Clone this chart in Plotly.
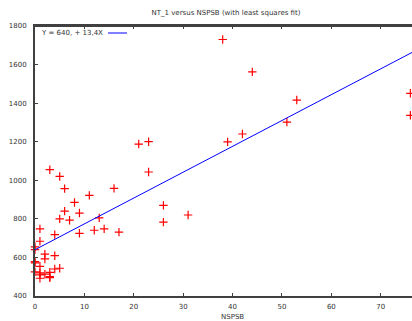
import plotly.graph_objects as go

# Data
nspsb = [3, 5, 6, 11, 16, 23, 8, 6, 9, 5, 7, 13, 26, 26, 31,
         1, 4, 9, 12, 14, 17, 1, 0, 0, 2, 2, 4, 0, 0, 1,
         0, 1, 1, 2, 3, 3, 3, 1, 4, 5,
         21, 23, 38, 44, 53, 51, 42, 39, 76, 76]
nt_1 = [1055, 1020, 957, 922, 958, 1043, 885, 840, 830, 800, 793, 805, 870, 783, 820,
        748, 718, 725, 741, 748, 731, 684, 655, 640, 617, 592, 609, 578, 572, 554,
        525, 520, 510, 513, 523, 500, 495, 492, 540, 544,
        1188, 1200, 1730, 1562, 1416, 1302, 1240, 1199, 1451, 1337]

fit_intercept = 640.0
fit_slope = 13.4
fit_label = "Y = 640, + 13,4X"

x_range = [0, 76.33]
y_range = [400, 1800]
x_ticks = [0, 10, 20, 30, 40, 50, 60, 70]
y_ticks = [400, 600, 800, 1000, 1200, 1400, 1600, 1800]

FONT = "DejaVu Sans"
FS = 7
TXT = "#333333"
AX = "#404040"

fit_x = [x_range[0], x_range[1]]
fit_y = [fit_intercept + fit_slope * v for v in fit_x]

fig = go.Figure()
fig.add_trace(go.Scatter(
    x=nspsb, y=nt_1, mode="markers", cliponaxis=False,
    marker=dict(symbol="cross-thin-open", size=6, color="#ff0000",
                line=dict(color="#ff0000", width=1.2)),
    showlegend=False, hoverinfo="skip"))
fig.add_trace(go.Scatter(
    x=fit_x, y=fit_y, mode="lines",
    line=dict(color="#0000ff", width=1),
    showlegend=False, hoverinfo="skip"))

# gnuplot-style key: text then line sample
fig.add_annotation(text=fit_label, xref="paper", yref="paper",
                   x=(104.5 - 35) / 377, y=1 - (33 - 26) / 270,
                   xanchor="right", yanchor="middle", showarrow=False,
                   font=dict(family=FONT, size=FS, color=TXT))
fig.add_shape(type="line", xref="paper", yref="paper",
              x0=(108 - 35) / 377, x1=(127 - 35) / 377,
              y0=1 - (33 - 26) / 270, y1=1 - (33 - 26) / 270,
              line=dict(color="#0000ff", width=1))

fig.add_annotation(text="NSPSB", xref="paper", yref="paper",
                   x=(232 - 35) / 377, y=-(317 - 296) / 270,
                   xanchor="center", yanchor="middle", showarrow=False,
                   font=dict(family=FONT, size=FS, color=TXT))

fig.update_layout(
    width=412, height=321,
    margin=dict(l=35, r=0, t=26, b=25, autoexpand=False),
    paper_bgcolor="white", plot_bgcolor="white",
    font=dict(family=FONT, size=FS, color=TXT),
    title=dict(text="NT_1 versus NSPSB (with least squares fit)",
               x=(226 - 35) / 377, xref="paper", xanchor="center",
               y=1 - 13 / 321, yref="container", yanchor="middle",
               font=dict(family=FONT, size=FS, color=TXT)),
    xaxis=dict(range=x_range, tickvals=x_ticks, showgrid=False, zeroline=False,
               automargin=False,
               showline=True, linecolor=AX, linewidth=2, mirror="ticks",
               ticks="inside", ticklen=3, tickcolor=AX, tickwidth=1,
               ticklabelstandoff=3),
    yaxis=dict(range=y_range, tickvals=y_ticks, showgrid=False, zeroline=False,
               automargin=False,
               showline=True, linecolor=AX, linewidth=2,
               ticks="inside", ticklen=3, tickcolor=AX, tickwidth=1,
               ticklabelstandoff=5),
)
# top border
fig.add_shape(type="line", xref="paper", yref="paper", x0=0, x1=1, y0=1, y1=1,
              line=dict(color=AX, width=2))

fig.write_html("out.html",
               config={"displayModeBar": False, "staticPlot": True},
               post_script="document.body.style.margin='0';document.body.style.overflow='hidden';")
